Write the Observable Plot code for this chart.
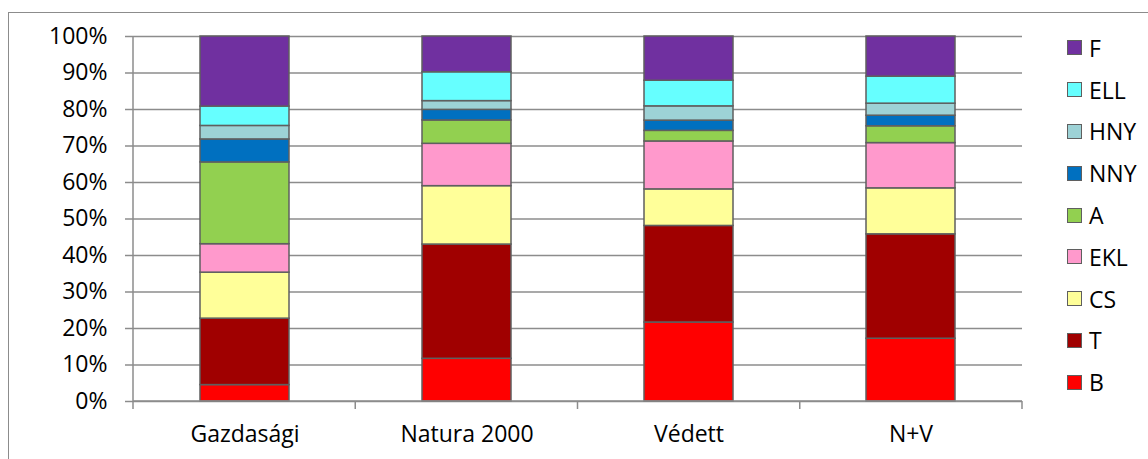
<!DOCTYPE html>
<html>
<head>
<meta charset="utf-8">
<script src="https://cdn.jsdelivr.net/npm/d3@7"></script>
<script src="https://cdn.jsdelivr.net/npm/@observablehq/plot@0.6"></script>
<style>
  html, body { margin: 0; padding: 0; background: #fff; overflow: hidden; }
  #wrap { position: relative; width: 1148px; height: 459px; overflow: hidden; font-family: "Open Sans", sans-serif; }
  #border { position: absolute; left: 8px; top: 12px; width: 1300px; height: 600px; border-left: 1.5px solid #8c8c8c; border-top: 1.5px solid #8c8c8c; box-sizing: border-box; pointer-events: none; }
  #chart { position: absolute; left: 0; top: 0; }
  #legend { position: absolute; left: 1067px; top: 27px; }
  .item { display: flex; align-items: center; height: 41.8px; font-size: 23px; color: #000; }
  .sw { width: 15px; height: 15px; box-sizing: border-box; border: 1.5px solid #5f5f5f; margin-right: 7px; }
</style>
</head>
<body>
<div id="wrap">
  <div id="border"></div>
  <div id="chart"></div>
  <div id="legend"></div>
</div>
<script>
const categories = ["Gazdasági", "Natura 2000", "Védett", "N+V"];
const seriesNames = ["B", "T", "CS", "EKL", "A", "NNY", "HNY", "ELL", "F"];
const seriesColors = ["#FF0000", "#A00000", "#FFFF99", "#FF99CC", "#92D050", "#0070C0", "#9DD2D6", "#66FFFF", "#7030A0"];

// percentages per category (Gazdasági, Natura 2000, Védett, N+V)
const B   = [4.5, 11.7, 21.6, 17.2];
const T   = [18.2, 31.3, 26.4, 28.6];
const CS  = [12.6, 16.0, 10.0, 12.6];
const EKL = [7.8, 11.6, 13.1, 12.4];
const A   = [22.4, 6.4, 2.9, 4.6];
const NNY = [6.3, 2.9, 2.8, 2.9];
const HNY = [3.7, 2.4, 3.9, 3.3];
const ELL = [5.3, 7.9, 7.0, 7.4];
const F   = [19.2, 9.8, 12.1, 11.0];

const yTicks = [0, 0.1, 0.2, 0.3, 0.4, 0.5, 0.6, 0.7, 0.8, 0.9, 1.0];

const seriesValues = [B, T, CS, EKL, A, NNY, HNY, ELL, F];
const data = seriesNames.flatMap((s, i) =>
  categories.map((c, j) => ({category: c, series: s, value: seriesValues[i][j]}))
);

const gridColor = "#8c8c8c";

// axis lines + category boundary ticks drawn from scales/dimensions
function axisLines(index, scales, values, dims) {
  const g = d3.create("svg:g").attr("stroke", gridColor).attr("stroke-width", 1.5);
  const left = dims.marginLeft, right = dims.width - dims.marginRight;
  const y0 = scales.y(0), y1 = scales.y(1);
  g.append("line").attr("x1", left).attr("x2", left).attr("y1", y1).attr("y2", y0);
  g.append("line").attr("x1", left).attr("x2", right).attr("y1", y0).attr("y2", y0);
  const n = categories.length;
  for (let k = 0; k <= n; k++) {
    const x = left + k * (right - left) / n;
    g.append("line").attr("x1", x).attr("x2", x).attr("y1", y0).attr("y2", y0 + 8);
  }
  return g.node();
}

const plot = Plot.plot({
  width: 1148,
  height: 459,
  marginLeft: 133,
  marginRight: 126,
  marginTop: 36,
  marginBottom: 58,
  style: {fontFamily: "Open Sans, sans-serif", fontSize: "23px", color: "#000", background: "transparent"},
  x: {domain: categories, paddingInner: 0.6, paddingOuter: 0.3, label: null},
  y: {domain: [0, 1], label: null},
  color: {domain: seriesNames, range: seriesColors},
  marks: [
    Plot.ruleY(yTicks, {stroke: gridColor, strokeWidth: 1.5, strokeOpacity: 1}),
    Plot.barY(data, Plot.stackY({offset: "normalize"}, {
      x: "category", y: "value", fill: "series",
      stroke: "#5f5f5f", strokeWidth: 1.5, inset: 0
    })),
    axisLines,
    Plot.axisY({ticks: yTicks, tickFormat: d3.format(".0%"), tickSize: 8, tickPadding: 18,
      stroke: gridColor, strokeWidth: 1.5, fill: "#000", label: null, fontSize: 23}),
    Plot.axisX({tickSize: 0, tickPadding: 24, fill: "#000", label: null, fontSize: 23})
  ]
});
document.getElementById("chart").appendChild(plot);

const legend = document.getElementById("legend");
for (let i = seriesNames.length - 1; i >= 0; i--) {
  const item = document.createElement("div");
  item.className = "item";
  const sw = document.createElement("div");
  sw.className = "sw";
  sw.style.background = seriesColors[i];
  const label = document.createElement("span");
  label.textContent = seriesNames[i];
  item.appendChild(sw);
  item.appendChild(label);
  legend.appendChild(item);
}
</script>
</body>
</html>
